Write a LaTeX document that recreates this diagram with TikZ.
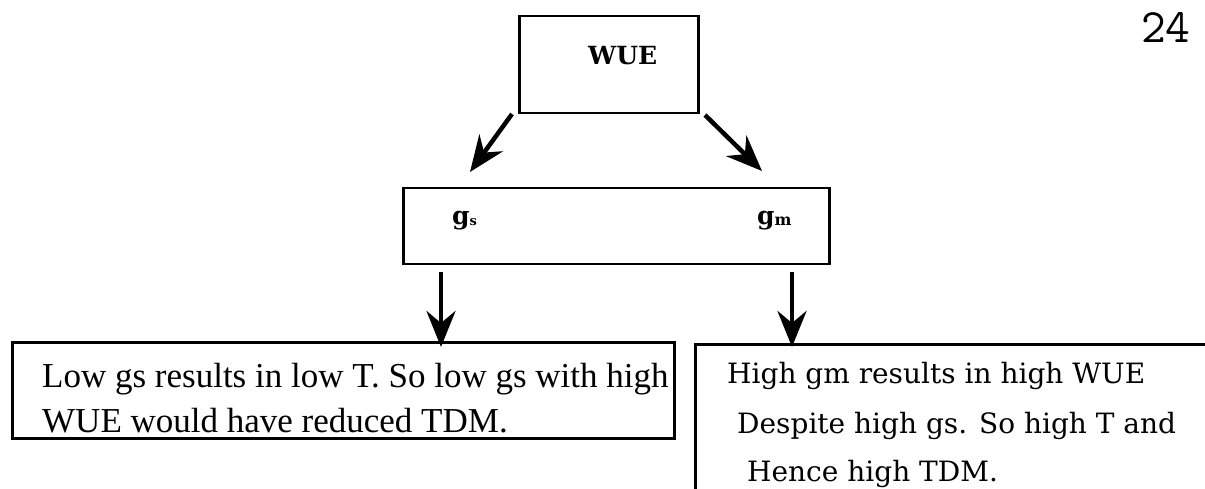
\documentclass[tikz,border=0pt]{standalone}
\usepackage{fontspec}
\setmainfont{Liberation Serif}
\newfontfamily\schfont{DejaVu Serif}
\usetikzlibrary{arrows.meta}
\begin{document}
\begin{tikzpicture}[x=1pt,y=-1pt,
  box/.style={draw, line width=2.5pt, inner sep=0pt, anchor=north west},
  arr/.style={line width=4.5pt, -{Stealth[length=36pt,width=29pt,inset=12pt]}},
  lbl/.style={inner sep=0pt, anchor=base west},
  body/.style={lbl, font=\fontsize{35}{42}\selectfont},
  rbody/.style={lbl, font=\schfont\fontsize{28}{32}\selectfont},
  bold/.style={lbl, font=\schfont\bfseries\fontsize{25}{28}\selectfont},
]
\useasboundingbox (0,0) rectangle (1205,489);
\clip (0,0) rectangle (1205,489);
% boxes
\node[box, minimum width=179pt, minimum height=97pt] (wue) at (518,15) {};
\node[box, minimum width=426pt, minimum height=76pt] (gbox) at (402,187) {};
\node[box, minimum width=662pt, minimum height=96pt] (lowbox) at (11,341) {};
\node[box, minimum width=600pt, minimum height=200pt] (highbox) at (694,343) {};
% labels
\node[bold] (wuet) at (588,65) {WUE};
\node[bold] (gs) at (452,225) {g\raisebox{-1pt}{\fontsize{13}{13}\selectfont s}};
\node[bold] (gm) at (757,225) {g\raisebox{-1pt}{\fontsize{16}{16}\selectfont m}};
\node[body] (l1) at (42,387) {Low gs results in low T. So low gs with high};
\node[body] (l2) at (42,432) {WUE would have reduced TDM.};
\node[rbody] (r1) at (727,383) {High gm results in high WUE};
\node[rbody] (r2) at (737,433) {Despite high gs. So high T and};
\node[rbody] (r3) at (747,481) {Hence high TDM.};
\node[lbl, font=\ttfamily\fontsize{48}{48}\selectfont] (page) at (1141,43) {24};
% connectors
\coordinate (t1) at (512,114);
\coordinate (h1) at (470,172);
\coordinate (t2) at (705,115);
\coordinate (h2) at (762,171);
\coordinate (t3) at (441,272);
\coordinate (h3) at (441,347);
\coordinate (t4) at (792,272);
\coordinate (h4) at (792,347);
\draw[arr] (t1) -- (h1);
\draw[arr] (t2) -- (h2);
\draw[arr] (t3) -- (h3);
\draw[arr] (t4) -- (h4);
\end{tikzpicture}
\end{document}
